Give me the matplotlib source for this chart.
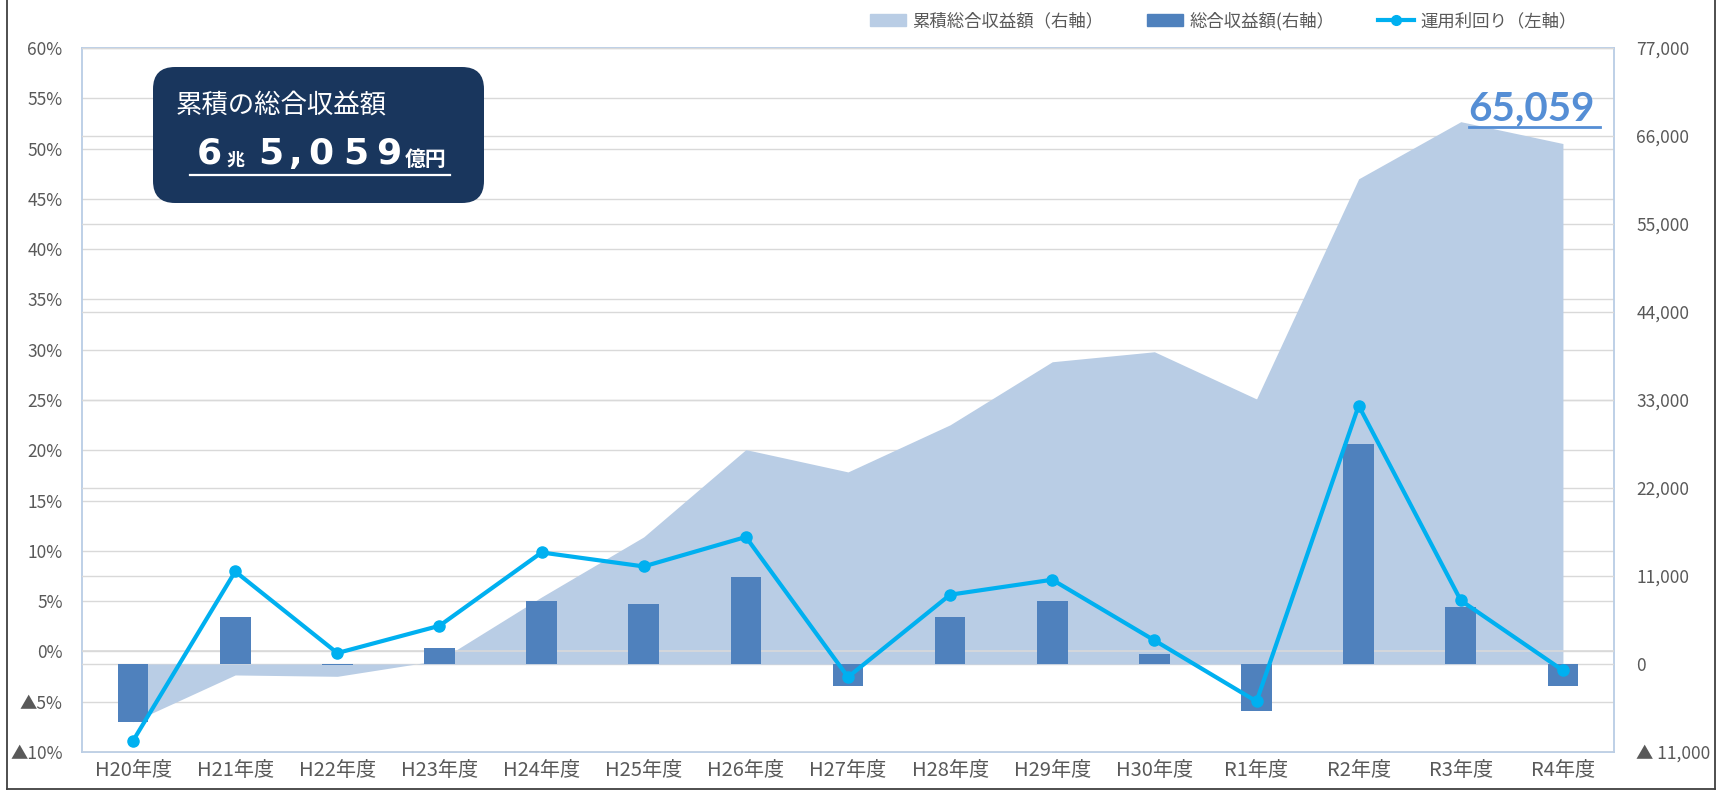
import matplotlib.pyplot as plt
import numpy as np
from matplotlib.patches import FancyBboxPatch, Patch
from matplotlib.lines import Line2D

plt.rcParams['font.family'] = ['Noto Sans CJK JP', 'DejaVu Sans']

# データ
nendo = ['H20年度', 'H21年度', 'H22年度', 'H23年度', 'H24年度', 'H25年度', 'H26年度',
         'H27年度', 'H28年度', 'H29年度', 'H30年度', 'R1年度', 'R2年度', 'R3年度', 'R4年度']
rimawari = [-8.88, 7.95, -0.16, 2.55, 9.84, 8.45, 11.38, -2.55, 5.64, 7.13, 1.10, -4.97, 24.44, 5.07, -1.89]
shueki = [-7220, 5850, -170, 2000, 7920, 7510, 10910, -2790, 5890, 7880, 1250, -5900, 27520, 7140, -2740]
ruiseki = [-7220, -1370, -1540, 460, 8380, 15890, 26800, 24010, 29900, 37780, 39030, 33130, 60650, 67790, 65059]

pct_ticks = list(range(-10, 61, 5))
yen_ticks = list(range(-11000, 77001, 11000))

W, H = 1729, 792
c_area = '#B9CDE5'
c_bar = '#4F81BD'
c_line = '#00B0F0'
c_grid = '#D9D9D9'
c_text = '#595959'


def px(x, y):
    # 左上基準のピクセル -> figure座標
    return x / W, 1 - y / H


fig = plt.figure(figsize=(W / 100, H / 100), dpi=100)
rect = [82 / W, 40 / H, 1532 / W, 704 / H]
ax = fig.add_axes(rect)
axr = ax.twinx()
axl = ax.twinx()

x = np.arange(len(nendo))

# 左軸（％）目盛と目盛線
pct_lim = (pct_ticks[0], pct_ticks[-1])
ax.set_ylim(*pct_lim)
ax.set_yticks(pct_ticks)
ax.set_yticklabels([f'{v}%' if v >= 0 else f'▲{-v}%' for v in pct_ticks])
ax.yaxis.grid(True, color=c_grid, lw=1)
ax.set_axisbelow(True)
ax.set_xlim(-0.5, len(nendo) - 0.5)
ax.set_xticks(x)
ax.set_xticklabels(nendo)
ax.tick_params(axis='y', length=0, labelsize=12.5, labelcolor=c_text, pad=14)
ax.tick_params(axis='x', length=0, labelsize=14.5, labelcolor=c_text, pad=6)
for s in ax.spines.values():
    s.set_color('#B9CDE5')
    s.set_linewidth(1.3)

# 右軸（億円）：累積と単年度
yen_lim = (yen_ticks[0], yen_ticks[-1])
axr.set_ylim(*yen_lim)
axr.set_yticks(yen_ticks)
axr.set_yticklabels([f'{v:,}' if v >= 0 else f'▲ {-v:,}' for v in yen_ticks])
axr.yaxis.grid(True, color=c_grid, lw=1)
axr.set_axisbelow(True)
axr.fill_between(x, ruiseki, 0, color=c_area, lw=0, zorder=1)
# 横軸（0%）の線は面の上、棒の下
frac0 = (0 - pct_lim[0]) / (pct_lim[1] - pct_lim[0])
axr.axhline(yen_lim[0] + frac0 * (yen_lim[1] - yen_lim[0]), color=c_grid, lw=1.2, zorder=1.5)
axr.bar(x, shueki, width=0.3, color=c_bar, zorder=2)
axr.tick_params(axis='y', length=0, labelsize=12.5, labelcolor=c_text, pad=16)
for s in axr.spines.values():
    s.set_visible(False)

# 運用利回り（左軸と同じ目盛）
axl.set_ylim(*pct_lim)
axl.plot(x, rimawari, color=c_line, lw=3, marker='o', ms=8, zorder=3)
axl.set_yticks([])
for s in axl.spines.values():
    s.set_visible(False)

# 凡例
handles = [Patch(color=c_area), Patch(color=c_bar),
           Line2D([], [], color=c_line, lw=3, marker='o', ms=7)]
labels = ['累積総合収益額（右軸）', '総合収益額(右軸）', '運用利回り（左軸）']
leg = fig.legend(handles, labels, loc='center', bbox_to_anchor=px(1223, 21), ncol=3,
                 frameon=False, fontsize=12.5, handlelength=2.1, handleheight=0.65,
                 handletextpad=0.35, columnspacing=2.5)
for t in leg.get_texts():
    t.set_color(c_text)

# 累積の総合収益額ボックス
box = FancyBboxPatch((1.53, (H - 203) / 100), 3.31, 1.36,
                     boxstyle='round,pad=0,rounding_size=0.22',
                     transform=fig.dpi_scale_trans, fc='#19365D', ec='none')
fig.add_artist(box)
fig.text(*px(176, 105), '累積の総合収益額', color='white', fontsize=19, va='center', ha='left')
fig.text(*px(197, 164), '6', color='white', fontsize=26, weight='bold',
         family='DejaVu Sans', va='baseline')
fig.text(*px(226, 166), '兆', color='white', fontsize=13, weight='bold', va='baseline')
for ch, xx in zip('5,059', [258, 288, 308, 343, 376]):
    fig.text(*px(xx, 164), ch, color='white', fontsize=26, weight='bold',
             family='DejaVu Sans', va='baseline')
fig.text(*px(405, 166), '億円', color='white', fontsize=15, weight='bold', va='baseline')
fig.add_artist(Line2D([190 / W, 450 / W], [1 - 175 / H] * 2, color='white', lw=1.6,
                      transform=fig.transFigure))

# 最終年度の累積値
fig.text(*px(1468, 120), '65,059', color='#558ED5', fontsize=29, weight='bold',
         family=['Lato', 'DejaVu Sans'], va='baseline')
fig.add_artist(Line2D([1469 / W, 1600 / W], [1 - 127 / H] * 2, color='#558ED5', lw=2,
                      transform=fig.transFigure))

# 外枠
for xs, ys in [([7, 7], [789, 0]), ([7, 1715], [789, 789]), ([1715, 1715], [789, 0])]:
    fig.add_artist(Line2D([v / W for v in xs], [1 - v / H for v in ys], color='#404040',
                          lw=1.3, transform=fig.transFigure))

fig.savefig('out.png', dpi=100)
